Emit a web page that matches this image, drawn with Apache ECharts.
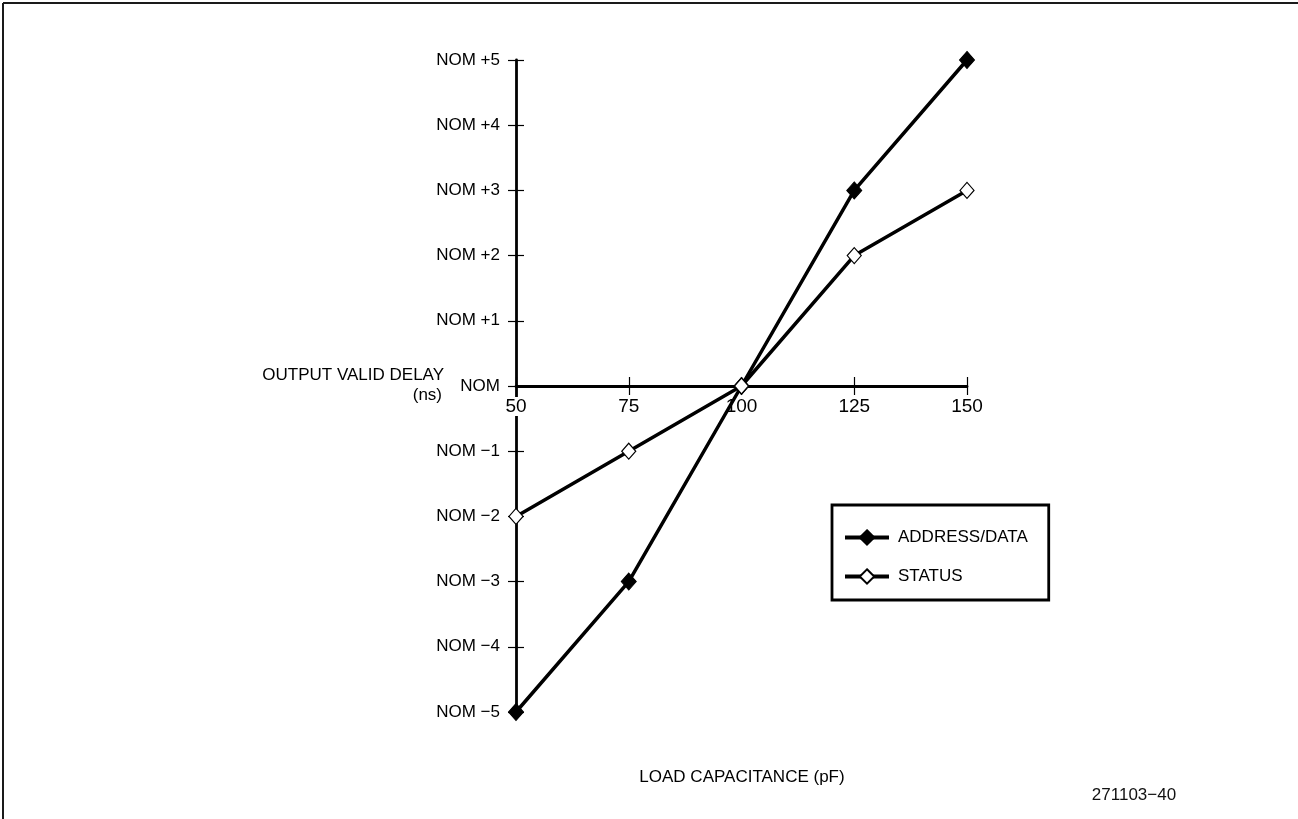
<!DOCTYPE html>
<html>
<head>
<meta charset="utf-8">
<script src="https://cdn.jsdelivr.net/npm/echarts@6/dist/echarts.min.js"></script>
<style>
html,body{margin:0;padding:0;background:#fff;}
#chart{width:1298px;height:819px;}
</style>
</head>
<body>
<div id="chart"></div>
<script>
var loadCapacitance = [50, 75, 100, 125, 150];
var addressData = [-5, -3, 0, 3, 5];
var statusData = [-2, -1, 0, 2, 3];
var yTickValues = [-5, -4, -3, -2, -1, 0, 1, 2, 3, 4, 5];
var yTickLabels = ['NOM \u22125', 'NOM \u22124', 'NOM \u22123', 'NOM \u22122', 'NOM \u22121', 'NOM', 'NOM +1', 'NOM +2', 'NOM +3', 'NOM +4', 'NOM +5'];
var seriesNames = ['ADDRESS/DATA', 'STATUS'];
var yAxisTitle = ['OUTPUT VALID DELAY', '(ns)'];
var xAxisTitle = 'LOAD CAPACITANCE (pF)';
var figureId = '271103\u221240';

var FONT = '"Liberation Sans", Arial, sans-serif';
var chart = echarts.init(document.getElementById('chart'), null, {renderer: 'canvas'});

function pairs(ys) { return loadCapacitance.map(function (x, i) { return [x, ys[i]]; }); }

var xBase = {
  type: 'value', min: 50, max: 150, interval: 25, position: 'bottom',
  splitLine: {show: false}
};
var yBase = {
  type: 'value', min: -5, max: 5, interval: 1, position: 'left',
  splitLine: {show: false}
};

var option = {
  backgroundColor: '#fff',
  animation: false,
  grid: [
    {left: 516, right: 331, top: 60, bottom: 107},
    {left: 516, right: 331, top: 60, height: 326}
  ],
  xAxis: [
    Object.assign({}, xBase, {
      gridIndex: 0,
      axisLine: {show: true, onZero: true, lineStyle: {color: '#000', width: 2.8}},
      axisTick: {show: true, inside: false, length: 9, lineStyle: {color: '#000', width: 1.2}},
      axisLabel: {show: false}
    }),
    Object.assign({}, xBase, {
      gridIndex: 0,
      axisLine: {show: true, onZero: true, lineStyle: {color: 'rgba(0,0,0,0)', width: 0}},
      axisTick: {show: true, inside: true, length: 9, lineStyle: {color: '#000', width: 1.2}},
      axisLabel: {show: false}
    }),
    Object.assign({}, xBase, {
      gridIndex: 1,
      axisLine: {show: false, onZero: false},
      axisTick: {show: false},
      axisLabel: {show: true, margin: 11, color: '#000', fontSize: 19, fontFamily: FONT,
        formatter: function (v) { return v === loadCapacitance[0] ? '{bg|' + v + '}' : String(v); },
        rich: {bg: {backgroundColor: '#fff', padding: [0, 1, 0, 1], color: '#000', fontSize: 19, fontFamily: FONT}}}
    })
  ],
  yAxis: [
    Object.assign({}, yBase, {
      gridIndex: 0,
      axisLine: {show: true, onZero: false, lineStyle: {color: '#000', width: 2.8}},
      axisTick: {show: true, inside: false, length: 8, lineStyle: {color: '#000', width: 1.2}},
      axisLabel: {show: true, margin: 16, color: '#000', fontSize: 17, fontFamily: FONT,
        formatter: function (v) { var i = yTickValues.indexOf(v); return i >= 0 ? yTickLabels[i] : ''; }}
    }),
    Object.assign({}, yBase, {
      gridIndex: 0,
      axisLine: {show: true, onZero: false, lineStyle: {color: 'rgba(0,0,0,0)', width: 0}},
      axisTick: {show: true, inside: true, length: 8, lineStyle: {color: '#000', width: 1.2}},
      axisLabel: {show: false}
    }),
    Object.assign({}, yBase, {
      gridIndex: 1, min: 0, max: 5,
      axisLine: {show: false}, axisTick: {show: false}, axisLabel: {show: false}
    })
  ],
  legend: {
    orient: 'vertical', left: 832, top: 505,
    data: seriesNames,
    borderColor: '#000', borderWidth: 2.8, borderRadius: 0,
    padding: [24, 21, 15, 11],
    itemWidth: 44, itemHeight: 18, itemGap: 22,
    lineStyle: {width: 4, color: '#000'},
    textStyle: {color: '#000', fontSize: 17, fontFamily: FONT, padding: [0, 0, 0, 4]},
    selectedMode: false
  },
  series: [
    {
      name: seriesNames[0], type: 'line', xAxisIndex: 0, yAxisIndex: 0,
      data: pairs(addressData),
      symbol: 'diamond', symbolSize: [15, 17],
      lineStyle: {color: '#000', width: 3.5},
      itemStyle: {color: '#000', borderColor: '#000', borderWidth: 1},
      z: 3
    },
    {
      name: seriesNames[1], type: 'line', xAxisIndex: 0, yAxisIndex: 0,
      data: pairs(statusData),
      symbol: 'diamond', symbolSize: [14, 16],
      lineStyle: {color: '#000', width: 3.5},
      itemStyle: {color: '#fff', borderColor: '#000', borderWidth: 1.2},
      z: 3
    }
  ],
  graphic: [
    {type: 'line', shape: {x1: 3, y1: 3, x2: 1298, y2: 3}, style: {stroke: '#1a1a1a', lineWidth: 2}, z: 10},
    {type: 'line', shape: {x1: 3, y1: 3, x2: 3, y2: 819}, style: {stroke: '#1a1a1a', lineWidth: 2}, z: 10},
    {type: 'text', x: 444, y: 375,
      style: {text: yAxisTitle[0], fill: '#000', font: '17px ' + FONT, textAlign: 'right', textVerticalAlign: 'middle'}},
    {type: 'text', x: 442, y: 395,
      style: {text: yAxisTitle[1], fill: '#000', font: '17px ' + FONT, textAlign: 'right', textVerticalAlign: 'middle'}},
    {type: 'text', x: 742, y: 777,
      style: {text: xAxisTitle, fill: '#000', font: '17px ' + FONT, textAlign: 'center', textVerticalAlign: 'middle'}},
    {type: 'text', x: 1134, y: 795,
      style: {text: figureId, fill: '#111', font: '17px ' + FONT, textAlign: 'center', textVerticalAlign: 'middle'}}
  ]
};
chart.setOption(option);
</script>
</body>
</html>
